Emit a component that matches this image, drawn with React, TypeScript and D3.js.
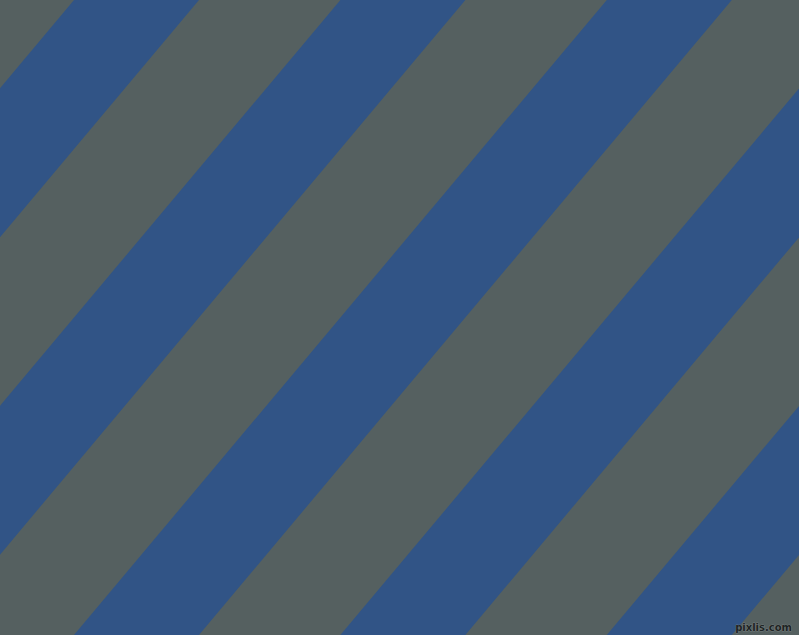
import { useMemo } from 'react';
import * as d3 from 'd3';

// stripe pattern: blue bands on a grey field, tilted 50 degrees
const bandNames = ['b0', 'b1', 'b2', 'b3', 'b4'];
const bandOrder = [0, 1, 2, 3, 4];
const fieldColor = '#556060';
const bandColor = '#315486';
const watermark = 'pixlis.com';

const W = 799;
const H = 635;
const angle = 50;          // degrees from horizontal
const firstEdge = 74;      // left edge of first band at top row
const period = 266.4;      // horizontal repeat at top row
const bandWidth = 125;     // horizontal width of a band

const App: React.FC = () => {
    const bands = useMemo(() => {
        const x = d3.scaleLinear()
            .domain([0, 1])
            .range([firstEdge, firstEdge + period]);
        const shift = H / Math.tan((angle * Math.PI) / 180);
        const line = d3.line<[number, number]>();
        return bandOrder.map((i) => {
            const left = x(i);
            const right = left + bandWidth;
            return {
                key: bandNames[i],
                d: line([
                    [left, 0],
                    [right, 0],
                    [right - shift, H],
                    [left - shift, H],
                ]) + 'Z',
            };
        });
    }, []);

    return (
        <div style={{ position: 'fixed', left: 0, top: 0 }}>
            <svg width={W} height={H} style={{ display: 'block' }}>
                <rect x={0} y={0} width={W} height={H} fill={fieldColor} />
                {bands.map((b) => (
                    <path key={b.key} d={b.d} fill={bandColor} />
                ))}
                <text
                    x={W - 7}
                    y={H - 4}
                    textAnchor="end"
                    fontFamily="DejaVu Sans, sans-serif"
                    fontWeight="bold"
                    fontSize={10}
                    fill="#1e2424"
                    stroke="#8a9494"
                    strokeWidth={0.6}
                    paintOrder="stroke"
                >
                    {watermark}
                </text>
            </svg>
        </div>
    );
};

export default App;
